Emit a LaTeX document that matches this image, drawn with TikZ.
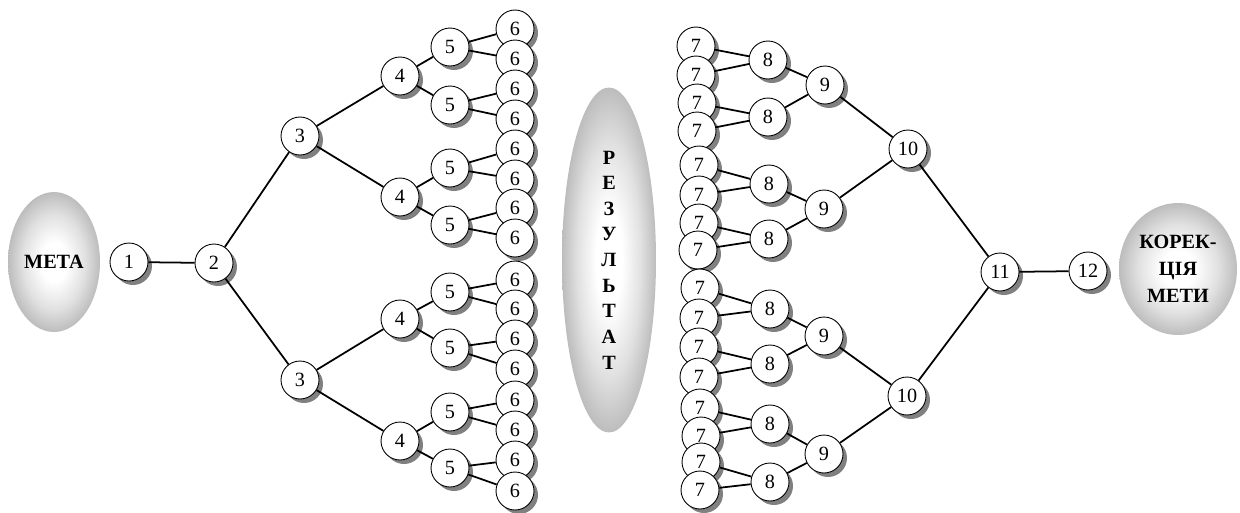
\documentclass[tikz,border=0pt]{standalone}
\usepackage{fontspec}
\setmainfont{Liberation Serif}
\usetikzlibrary{shapes.geometric, shadows}
\pgfdeclareradialshading{blobshade}{\pgfpoint{0bp}{0bp}}{%
  color(0bp)=(white); color(7bp)=(white); color(17bp)=(black!12);
  color(25bp)=(black!26); color(31bp)=(black!38); color(50bp)=(black!38)}
\tikzset{
  num/.style={circle,draw=black,line width=0.5pt,fill=white,
    minimum size=0.76cm,inner sep=0pt,font=\fontsize{11.5}{13}\selectfont,
    drop shadow={shadow xshift=0.08cm,shadow yshift=-0.08cm,
      fill=black!50,opacity=1}},
  blob/.style={ellipse,shading=blobshade,
    inner sep=0pt,align=center,font=\fontsize{11.5}{15.5}\selectfont\bfseries},
  link/.style={line width=1pt,draw=black}
}

\begin{document}
\begin{tikzpicture}[x=0.02cm,y=-0.02cm]
  \useasboundingbox (0,0) rectangle (1240,512);

  % goal and result
  \node[blob,minimum width=1.84cm,minimum height=2.8cm] (goal) at (54,262) {МЕТА};
  \node[blob,minimum width=1.88cm,minimum height=6.9cm,
    font=\fontsize{11.5}{14.6}\selectfont\bfseries] (result) at (609,260)
    {Р\\Е\\З\\У\\Л\\Ь\\Т\\А\\Т};
  \node[blob,minimum width=2.36cm,minimum height=2.64cm] (fix) at (1178,269)
    {КОРЕК-\\ЦІЯ\\МЕТИ};

  % left tree
  \node[num] (n1) at (129,262) {1};
  \node[num] (n2) at (214,263) {2};
  \node[num] (n3a) at (300,136) {3};
  \node[num] (n3b) at (300,380) {3};
  \node[num] (n4a) at (400,76) {4};
  \node[num] (n4b) at (400,197) {4};
  \node[num] (n4c) at (400,319) {4};
  \node[num] (n4d) at (400,441) {4};
  \node[num] (n5a) at (450,47) {5};
  \node[num] (n5b) at (450,105) {5};
  \node[num] (n5c) at (450,168) {5};
  \node[num] (n5d) at (450,225) {5};
  \node[num] (n5e) at (450,292) {5};
  \node[num] (n5f) at (450,348) {5};
  \node[num] (n5g) at (450,412) {5};
  \node[num] (n5h) at (450,468) {5};
  \node[num] (n6a) at (515,29) {6};
  \node[num] (n6b) at (515,59) {6};
  \node[num] (n6c) at (515,89) {6};
  \node[num] (n6d) at (515,119) {6};
  \node[num] (n6e) at (515,149) {6};
  \node[num] (n6f) at (515,179) {6};
  \node[num] (n6g) at (515,208) {6};
  \node[num] (n6h) at (515,238) {6};
  \node[num] (n6i) at (515,280) {6};
  \node[num] (n6j) at (515,309) {6};
  \node[num] (n6k) at (515,339) {6};
  \node[num] (n6l) at (515,369) {6};
  \node[num] (n6m) at (515,400) {6};
  \node[num] (n6n) at (515,430) {6};
  \node[num] (n6o) at (515,460) {6};
  \node[num] (n6p) at (515,491) {6};

  % right tree
  \node[num] (n7a) at (696,46) {7};
  \node[num] (n7b) at (696,75) {7};
  \node[num] (n7c) at (697,103) {7};
  \node[num] (n7d) at (697,131) {7};
  \node[num] (n7e) at (699,165) {7};
  \node[num] (n7f) at (699,195) {7};
  \node[num] (n7g) at (699,223) {7};
  \node[num] (n7h) at (698,250) {7};
  \node[num] (n7i) at (700,288) {7};
  \node[num] (n7j) at (699,318) {7};
  \node[num] (n7k) at (699,347) {7};
  \node[num] (n7l) at (699,377) {7};
  \node[num] (n7m) at (700,408) {7};
  \node[num] (n7n) at (701,436) {7};
  \node[num] (n7o) at (701,462) {7};
  \node[num] (n7p) at (700,490) {7};
  \node[num] (n8a) at (768,60) {8};
  \node[num] (n8b) at (768,117) {8};
  \node[num] (n8c) at (769,184) {8};
  \node[num] (n8d) at (769,239) {8};
  \node[num] (n8e) at (770,309) {8};
  \node[num] (n8f) at (770,364) {8};
  \node[num] (n8g) at (770,424) {8};
  \node[num] (n8h) at (770,482) {8};
  \node[num] (n9a) at (825,85) {9};
  \node[num] (n9b) at (824,209) {9};
  \node[num] (n9c) at (824,336) {9};
  \node[num] (n9d) at (824,454) {9};
  \node[num] (n10a) at (908,149) {10};
  \node[num] (n10b) at (907,396) {10};
  \node[num] (n11) at (1000,272) {11};
  \node[num] (n12) at (1088,271) {12};

  % connectors
  \draw[link] (n1) -- (n2);
  \draw[link] (n2) -- (n3a);
  \draw[link] (n2) -- (n3b);
  \draw[link] (n3a) -- (n4a);
  \draw[link] (n3a) -- (n4b);
  \draw[link] (n3b) -- (n4c);
  \draw[link] (n3b) -- (n4d);
  \draw[link] (n4a) -- (n5a);
  \draw[link] (n4a) -- (n5b);
  \draw[link] (n4b) -- (n5c);
  \draw[link] (n4b) -- (n5d);
  \draw[link] (n4c) -- (n5e);
  \draw[link] (n4c) -- (n5f);
  \draw[link] (n4d) -- (n5g);
  \draw[link] (n4d) -- (n5h);
  \draw[link] (n5a) -- (n6a);
  \draw[link] (n5a) -- (n6b);
  \draw[link] (n5b) -- (n6c);
  \draw[link] (n5b) -- (n6d);
  \draw[link] (n5c) -- (n6e);
  \draw[link] (n5c) -- (n6f);
  \draw[link] (n5d) -- (n6g);
  \draw[link] (n5d) -- (n6h);
  \draw[link] (n5e) -- (n6i);
  \draw[link] (n5e) -- (n6j);
  \draw[link] (n5f) -- (n6k);
  \draw[link] (n5f) -- (n6l);
  \draw[link] (n5g) -- (n6m);
  \draw[link] (n5g) -- (n6n);
  \draw[link] (n5h) -- (n6o);
  \draw[link] (n5h) -- (n6p);

  \draw[link] (n7a) -- (n8a);
  \draw[link] (n7b) -- (n8a);
  \draw[link] (n7c) -- (n8b);
  \draw[link] (n7d) -- (n8b);
  \draw[link] (n7e) -- (n8c);
  \draw[link] (n7f) -- (n8c);
  \draw[link] (n7g) -- (n8d);
  \draw[link] (n7h) -- (n8d);
  \draw[link] (n7i) -- (n8e);
  \draw[link] (n7j) -- (n8e);
  \draw[link] (n7k) -- (n8f);
  \draw[link] (n7l) -- (n8f);
  \draw[link] (n7m) -- (n8g);
  \draw[link] (n7n) -- (n8g);
  \draw[link] (n7o) -- (n8h);
  \draw[link] (n7p) -- (n8h);
  \draw[link] (n8a) -- (n9a);
  \draw[link] (n8b) -- (n9a);
  \draw[link] (n8c) -- (n9b);
  \draw[link] (n8d) -- (n9b);
  \draw[link] (n8e) -- (n9c);
  \draw[link] (n8f) -- (n9c);
  \draw[link] (n8g) -- (n9d);
  \draw[link] (n8h) -- (n9d);
  \draw[link] (n9a) -- (n10a);
  \draw[link] (n9b) -- (n10a);
  \draw[link] (n9c) -- (n10b);
  \draw[link] (n9d) -- (n10b);
  \draw[link] (n10a) -- (n11);
  \draw[link] (n10b) -- (n11);
  \draw[link] (n11) -- (n12);
\end{tikzpicture}
\end{document}
